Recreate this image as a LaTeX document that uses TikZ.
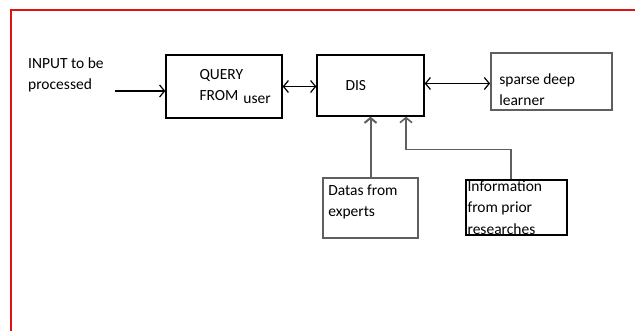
\documentclass[tikz,border=0pt]{standalone}
\usepackage{fontspec}
\setmainfont{Carlito}
\usetikzlibrary{arrows.meta,positioning}
\definecolor{framered}{RGB}{220,20,20}
\definecolor{linegrey}{RGB}{95,95,95}
\tikzset{
  blockbox/.style={draw, rectangle, inner sep=0pt, line width=1.3pt},
  boxtext/.style={align=left, inner sep=0pt, font=\fontsize{15.5}{21.5}\selectfont},
  barb/.style={-{Straight Barb[length=5pt,width=12pt]}, line width=1.2pt},
  twobarb/.style={{Straight Barb[length=5pt,width=12pt]}-{Straight Barb[length=5pt,width=12pt]}, line width=1.2pt},
}
\begin{document}
\begin{tikzpicture}[x=1pt, y=-1pt]
	\useasboundingbox (0,0) rectangle (635,331);
	\draw[framered, line width=1.3pt] (11,331) |- (635,10);

	% boxes
	\node[blockbox, minimum width=116pt, minimum height=63pt] (query) at (224,86.5) {};
	\node[blockbox, minimum width=107pt, minimum height=61pt] (dis) at (370.5,85.5) {};
	\node[blockbox, draw=linegrey, line width=1.8pt, minimum width=121pt, minimum height=57pt] (sparse) at (551.5,81.5) {};
	\node[blockbox, draw=linegrey, line width=1.8pt, minimum width=95pt, minimum height=60pt] (datas) at (370.5,208) {};
	\node[blockbox, minimum width=101pt, minimum height=55pt] (info) at (516.5,207.5) {};

	% texts
	\node[boxtext, anchor=west] (inputtext) at (28,75) {INPUT to be\\processed};
	\node[boxtext, right=34pt of query.west] (querytext) {QUERY\\FROM\hspace{5pt}\raisebox{-3pt}{user}};
	\node[boxtext, right=29pt of dis.west] (distext) {DIS};
	\node[boxtext, right=9pt of sparse.west, yshift=-8pt] (sparsetext) {sparse deep\\learner};
	\node[boxtext, right=6pt of datas.west, yshift=6pt] (datastext) {Datas from\\experts};
	\node[boxtext, right=2pt of info.west] (infotext) {Information\\from prior\\researches};

	% connectors
	\coordinate (inputend) at (115,91);
	\draw[barb] (inputend) -- (query.west |- inputend);
	\draw[twobarb] (query.east) -- (query.east -| dis.west);
	\draw[twobarb] ([yshift=2pt]dis.east) -- ([yshift=2pt]dis.east -| sparse.west);
	\draw[barb, linegrey, line width=2pt] (datas.north) -- (dis.south);
	\draw[barb, linegrey, line width=1.6pt] ([xshift=-5.5pt]info.north) -- ++(0,-30) -| ([xshift=35.5pt]dis.south);
\end{tikzpicture}
\end{document}
